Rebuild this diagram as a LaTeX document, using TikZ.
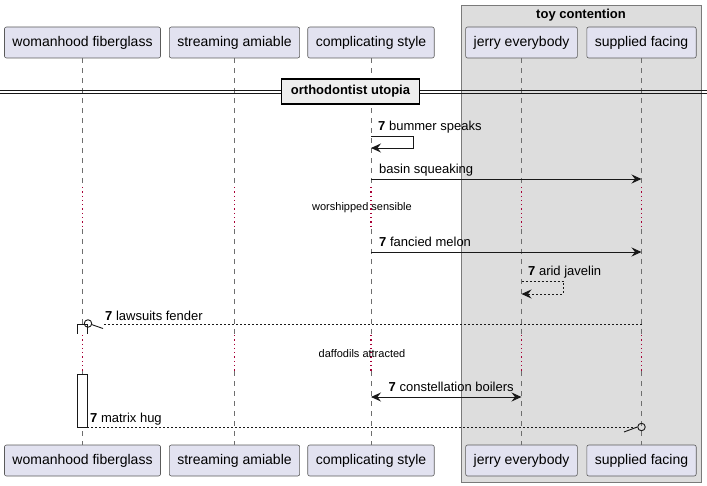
\documentclass[tikz,border=0pt]{standalone}
\usepackage{fontspec}
\setmainfont{Liberation Sans}
\usetikzlibrary{arrows.meta}
\definecolor{partfill}{HTML}{E2E2F0}
\definecolor{inkcol}{HTML}{181818}
\definecolor{partline}{HTML}{5A5A5A}
\definecolor{grpfill}{HTML}{DDDDDD}
\definecolor{grpline}{HTML}{7A7A7A}
\definecolor{lifecol}{HTML}{6E6E6E}
\definecolor{delaycol}{HTML}{A80036}
\definecolor{divfill}{HTML}{EEEEEE}
\begin{document}
\begin{tikzpicture}[x=1pt,y=-1pt,
  part/.style={draw=partline, line width=0.6pt, fill=partfill, rounded corners=2pt,
    minimum height=31pt, inner xsep=8pt, inner ysep=0pt, font=\fontsize{14}{16}\selectfont},
  lifeline/.style={draw=lifecol, line width=0.7pt, dash pattern=on 5pt off 5pt},
  delayline/.style={draw=delaycol, line width=1.1pt, dash pattern=on 1.3pt off 3pt},
  msg/.style={draw=inkcol, line width=0.9pt, -{Stealth[length=10pt,width=9pt,inset=3.5pt]}},
  retmsg/.style={msg, line width=0.8pt, dash pattern=on 2pt off 2pt},
  plainret/.style={draw=inkcol, line width=0.8pt, dash pattern=on 2pt off 2pt},
  lostpart/.style={draw=inkcol, line width=0.9pt},
  lbl/.style={anchor=west, inner sep=0pt, font=\fontsize{13}{15}\selectfont},
  delaytxt/.style={inner sep=0pt, font=\fontsize{11}{13}\selectfont},
  actbox/.style={draw=inkcol, line width=0.9pt},
]
\useasboundingbox (0,0) rectangle (707,486);
% group
\node[draw=grpline, line width=0.8pt, fill=grpfill, anchor=north west, minimum width=240pt,
      minimum height=477pt, inner sep=0pt] (grp) at (461,5) {};
\node[inner sep=0pt, font=\fontsize{13}{15}\selectfont\bfseries] (grptitle) at (581,15) {toy contention};
% participants
\foreach \n/\x/\t in {A/82.5/womanhood fiberglass, B/234.5/streaming amiable, C/371/complicating style,
                      D/521.5/jerry everybody, E/641.5/supplied facing}{
  \node[part] (top\n) at (\x,42.5) {\t};
  \node[part] (bot\n) at (\x,460.5) {\t};
  \coordinate (dA\n) at (\x,187);
  \coordinate (dB\n) at (\x,229);
  \coordinate (dC\n) at (\x,335);
  \coordinate (dD\n) at (\x,371);
  \draw[lifeline] (top\n.south) -- (dA\n);
  \draw[delayline] (dA\n) -- (dB\n);
  \draw[lifeline] (dB\n) -- (dC\n);
  \draw[delayline] (dC\n) -- (dD\n);
  \draw[lifeline] (dD\n) -- (bot\n.north);
}
% divider
\coordinate (dvl1) at (0,91); \coordinate (dvr1) at (707,91);
\coordinate (dvl2) at (0,94); \coordinate (dvr2) at (707,94);
\draw[inkcol, line width=1pt] (dvl1) -- (dvr1) (dvl2) -- (dvr2);
\node[draw=black, line width=1.5pt, fill=divfill, minimum height=25pt, inner xsep=9.5pt, inner ysep=0pt,
      font=\fontsize{13}{15}\selectfont\bfseries] (div) at (350.5,91.5) {orthodontist utopia};
% 1 self message
\coordinate (m1b) at (413,136); \coordinate (m1c) at (413,148);
\draw[msg] (topC |- m1b) -- (m1b) -- (m1c) -- (topC |- m1c);
\node[lbl] (l1) at (378,127) {\textbf{7} bummer speaks};
% 2 basin squeaking
\coordinate (m2) at (0,179);
\draw[msg] (topC |- m2) -- (topE |- m2);
\node[lbl] (l2) at (379,170) {basin squeaking};
% delay 1
\node[delaytxt] (dl1) at (362,208) {worshipped sensible};
% 3 fancied melon
\coordinate (m3) at (0,252);
\draw[msg] (topC |- m3) -- (topE |- m3);
\node[lbl] (l3) at (379,242) {\textbf{7} fancied melon};
% 4 arid javelin
\coordinate (m4b) at (563,281); \coordinate (m4c) at (563,294);
\draw[retmsg] (topD |- m4b) -- (m4b) -- (m4c) -- (topD |- m4c);
\node[lbl] (l4) at (528,272) {\textbf{7} arid javelin};
% activation
\coordinate (a1) at (77,324); \coordinate (a2) at (87,324);
\coordinate (a1b) at (77,334); \coordinate (a2b) at (87,334);
\fill[white] (a1) rectangle (a2b);
\draw[actbox] (a1b) -- (a1) -- (a2) -- (a2b);
\coordinate (a3) at (77,374); \coordinate (a4) at (87,427);
\draw[actbox, fill=white] (a3) rectangle (a4);
% 5 lawsuits fender
\coordinate (m5end) at (103,324); \coordinate (m5s) at (103,328.5); \coordinate (m5o) at (88,323.5);
\coordinate (m5t) at (91.5,324.5);
\draw[plainret] (topE |- m5end) -- (m5end);
\draw[lostpart] (m5s) -- (m5t);
\node[draw=inkcol, line width=0.9pt, circle, minimum size=7.5pt, inner sep=0pt] (o5) at (m5o) {};
\node[lbl] (l5) at (105,316) {\textbf{7} lawsuits fender};
% delay 2
\node[delaytxt] (dl2) at (362,354) {daffodils attracted};
% 6 constellation boilers
\coordinate (m6) at (0,397);
\draw[msg, {Stealth[length=10pt,width=9pt,inset=3.5pt]}-{Stealth[length=10pt,width=9pt,inset=3.5pt]}] (topC |- m6) -- (topD |- m6);
\node[lbl] (l6) at (388.5,387) {\textbf{7} constellation boilers};
% 7 matrix hug
\node[draw=inkcol, line width=0.9pt, circle, minimum size=7.5pt, inner sep=0pt] (o7) at (641.5,427) {};
\coordinate (m7s) at (624,432);
\draw[plainret] (a4) -- (o7.west);
\draw[lostpart] (m7s) -- (o7.west);
\node[lbl] (l7) at (90,419) {\textbf{7} matrix hug};
\end{tikzpicture}
\end{document}
